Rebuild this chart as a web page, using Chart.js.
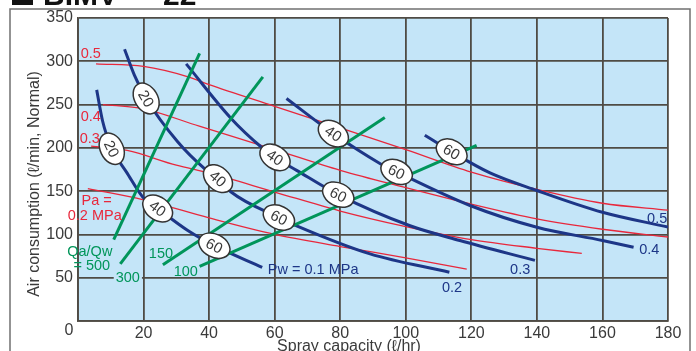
<!DOCTYPE html>
<html lang="en">
<head>
<meta charset="UTF-8">
<title>BIMV air consumption</title>
<script src="https://cdn.jsdelivr.net/npm/chart.js@4.4.0/dist/chart.umd.min.js"></script>
<style>
  html, body { margin: 0; padding: 0; background: #fff; }
  #wrap { width: 696px; height: 351px; }
</style>
</head>
<body>
<div id="wrap"><canvas id="chart" width="696" height="351"></canvas></div>
<script>
// axis ticks
const xTicks = [0, 20, 40, 60, 80, 100, 120, 140, 160, 180];
const yTicks = [0, 50, 100, 150, 200, 250, 300, 350];

// Pw = water pressure curves, [spray capacity l/hr, air consumption l/min]
const pw01 = [[5.7, 267], [7.5, 231], [8.8, 214], [10.3, 199], [14.8, 172], [19.8, 143], [24.3, 130], [33.5, 104.5], [41.6, 87], [56.2, 62]];
const pw02 = [[14.2, 314], [17.2, 284], [20.8, 257], [30.4, 207], [38.6, 176], [42.7, 164.5], [46.7, 149], [61.3, 119.5], [66.7, 110], [89.1, 77.6], [113.3, 56.4]];
const pw03 = [[33, 297], [46.7, 234], [55.9, 201], [60.1, 189], [66.7, 174], [79.4, 146], [101.3, 110], [116.5, 93], [139.4, 70]];
const pw04 = [[63.6, 257], [77.9, 216.5], [92.1, 182], [97.2, 172.3], [119.6, 133.4], [140, 108.3], [160, 93], [169.5, 85.2]];
const pw05 = [[105.8, 214.6], [114, 195.4], [125.7, 171], [140, 150.7], [160, 125.6], [180, 108.5]];

// Pa = air pressure curves
const pa02 = [[3, 153], [20, 140], [40, 119], [60, 100], [80, 86], [100, 73], [118.6, 60]];
const pa03 = [[4, 202], [15, 197], [30, 180], [40, 171], [60, 149], [80, 127], [100, 109], [120, 94], [140, 84], [153.7, 78]];
const pa04 = [[7.6, 250], [20, 245], [37, 225], [60, 198], [80, 174], [100, 154], [120, 135], [140, 118], [160, 106], [180, 97]];
const pa05 = [[5.5, 297], [20, 294], [33.6, 282], [40, 273], [60, 248], [80, 223], [100, 198], [120, 172], [140, 152], [160, 136], [180, 128]];

// Qa/Qw ratio lines
const qr500 = [[10.9, 94], [37.1, 309]];
const qr300 = [[12.9, 66], [56.4, 282]];
const qr150 = [[25.9, 65], [93.6, 235]];
const qr100 = [[37.1, 63], [121.6, 203]];

// mean droplet size markers on the Pw curves
const dropMarks = [
  { curve: pw01, x: 10.3, text: '20' }, { curve: pw01, x: 24.3, text: '40' }, { curve: pw01, x: 41.6, text: '60' },
  { curve: pw02, x: 20.8, text: '20' }, { curve: pw02, x: 42.7, text: '40' }, { curve: pw02, x: 61.3, text: '60' },
  { curve: pw03, x: 60.1, text: '40' }, { curve: pw03, x: 79.4, text: '60' },
  { curve: pw04, x: 77.9, text: '40' }, { curve: pw04, x: 97.2, text: '60' },
  { curve: pw05, x: 114, text: '60' }
];

const RED = '#e8283c', BLUE = '#1d3687', GREEN = '#00955a', TXT = '#3a3a3a';
const FONT = '"Liberation Sans", Arial, sans-serif';

// curve labels, placed in data units
const notes = [
  { t: '0.5', x: 3.9, y: 309, c: RED }, { t: '0.4', x: 3.9, y: 237, c: RED }, { t: '0.3', x: 3.6, y: 211, c: RED },
  { t: 'Pa =', x: 5.7, y: 140, c: RED }, { t: '0.2 MPa', x: 5.1, y: 122, c: RED },
  { t: 'Qa/Qw', x: 3.6, y: 81.4, c: GREEN }, { t: '= 500', x: 4.2, y: 65.2, c: GREEN },
  { t: '300', x: 15.2, y: 51.4, c: GREEN, bg: true }, { t: '150', x: 25.3, y: 79, c: GREEN }, { t: '100', x: 32.9, y: 58.3, c: GREEN },
  { t: 'Pw = 0.1 MPa', x: 57.9, y: 60.6, c: BLUE, align: 'left' },
  { t: '0.2', x: 114.1, y: 39.8, c: BLUE }, { t: '0.3', x: 134.9, y: 60.6, c: BLUE },
  { t: '0.4', x: 174.3, y: 82.6, c: BLUE }, { t: '0.5', x: 176.7, y: 119.5, c: BLUE }
];

const PLOT_BG = '#c4e5f8';
const GRID = '#4f4b45';

function pts(a) { return a.map(p => ({ x: p[0], y: p[1] })); }
function line(data, color, width, order) {
  return { data: pts(data), borderColor: color, borderWidth: width, showLine: true, pointRadius: 0,
           cubicInterpolationMode: 'monotone', order: order, fill: false };
}
function yAt(curve, x) {
  for (let i = 1; i < curve.length; i++) {
    if (x <= curve[i][0]) {
      const a = curve[i - 1], b = curve[i];
      return a[1] + (b[1] - a[1]) * (x - a[0]) / (b[0] - a[0]);
    }
  }
  return curve[curve.length - 1][1];
}

const decor = {
  id: 'decor',
  beforeDraw(chart) {
    const ctx = chart.ctx, a = chart.chartArea;
    ctx.save();
    ctx.fillStyle = PLOT_BG;
    ctx.fillRect(a.left, a.top, a.right - a.left, a.bottom - a.top);
    // outer frame
    ctx.strokeStyle = '#707070';
    ctx.lineWidth = 1.5;
    ctx.beginPath();
    ctx.moveTo(10, 352); ctx.lineTo(10, 9); ctx.lineTo(690, 9); ctx.lineTo(690, 352);
    ctx.stroke();
    // heading (cut off at the top)
    ctx.fillStyle = '#111';
    ctx.fillRect(12, -16, 21, 21);
    ctx.font = 'bold 30px ' + FONT;
    ctx.textBaseline = 'alphabetic';
    ctx.fillText('BIMV - - 22', 43, 5);
    ctx.restore();
  },
  afterDatasetsDraw(chart) {
    const ctx = chart.ctx, xs = chart.scales.x, ys = chart.scales.y;
    ctx.save();
    // droplet markers
    dropMarks.forEach(m => {
      const cx = xs.getPixelForValue(m.x), cy = ys.getPixelForValue(yAt(m.curve, m.x));
      const x1 = xs.getPixelForValue(m.x - 1.5), y1 = ys.getPixelForValue(yAt(m.curve, m.x - 1.5));
      const x2 = xs.getPixelForValue(m.x + 1.5), y2 = ys.getPixelForValue(yAt(m.curve, m.x + 1.5));
      const ang = Math.atan2(y2 - y1, x2 - x1);
      ctx.save();
      ctx.translate(cx, cy);
      ctx.rotate(ang);
      ctx.beginPath();
      ctx.ellipse(0, 0, 16.5, 11.5, 0, 0, Math.PI * 2);
      ctx.fillStyle = '#fff';
      ctx.fill();
      ctx.strokeStyle = '#333';
      ctx.lineWidth = 1.5;
      ctx.stroke();
      ctx.fillStyle = TXT;
      ctx.font = '15px ' + FONT;
      ctx.textAlign = 'center';
      ctx.textBaseline = 'middle';
      ctx.fillText(m.text, 0, 1);
      ctx.restore();
    });
    // curve labels
    ctx.font = '14.5px ' + FONT;
    ctx.textBaseline = 'middle';
    notes.forEach(n => {
      const px = xs.getPixelForValue(n.x), py = ys.getPixelForValue(n.y);
      ctx.textAlign = n.align || 'center';
      if (n.bg) {
        const w = ctx.measureText(n.t).width;
        ctx.fillStyle = PLOT_BG;
        ctx.fillRect(px - w / 2 - 2, py - 8, w + 4, 16);
      }
      ctx.fillStyle = n.c;
      ctx.fillText(n.t, px, py + 1);
    });
    ctx.restore();
  },
  afterDraw(chart) {
    const ctx = chart.ctx, a = chart.chartArea;
    ctx.save();
    ctx.fillStyle = TXT;
    ctx.font = '16px ' + FONT;
    ctx.textAlign = 'center';
    ctx.textBaseline = 'middle';
    ctx.fillText('0', a.left - 9, 331);
    ctx.fillText('Spray capacity (\u2113/hr)', 349, 347);
    ctx.translate(35, 184);
    ctx.rotate(-Math.PI / 2);
    ctx.fillText('Air consumption (\u2113/min, Normal)', 0, 0);
    ctx.restore();
  }
};

new Chart(document.getElementById('chart'), {
  type: 'scatter',
  data: {
    datasets: [
      line(pa02, RED, 1.3, 3), line(pa03, RED, 1.3, 3), line(pa04, RED, 1.3, 3), line(pa05, RED, 1.3, 3),
      line(pw01, BLUE, 3, 2), line(pw02, BLUE, 3, 2), line(pw03, BLUE, 3, 2), line(pw04, BLUE, 3, 2), line(pw05, BLUE, 3, 2),
      line(qr500, GREEN, 3, 1), line(qr300, GREEN, 3, 1), line(qr150, GREEN, 3, 1), line(qr100, GREEN, 3, 1)
    ]
  },
  options: {
    responsive: false,
    devicePixelRatio: 1,
    animation: false,
    layout: { padding: { left: 0, top: 18, right: 28, bottom: 0 } },
    plugins: { legend: { display: false }, tooltip: { enabled: false } },
    scales: {
      x: {
        type: 'linear', min: xTicks[0], max: xTicks[xTicks.length - 1],
        afterBuildTicks: s => { s.ticks = xTicks.map(v => ({ value: v })); },
        afterFit: s => { s.height = 30; },
        grid: { color: GRID, lineWidth: 1.8, drawTicks: false },
        border: { color: GRID, width: 1.8 },
        ticks: { color: TXT, padding: 3, font: { family: FONT, size: 16 }, callback: v => v === 0 ? '' : v, maxRotation: 0 }
      },
      y: {
        type: 'linear', min: yTicks[0], max: yTicks[yTicks.length - 1],
        afterBuildTicks: s => { s.ticks = yTicks.map(v => ({ value: v })); },
        afterFit: s => { s.width = 78; },
        grid: { color: GRID, lineWidth: 1.8, drawTicks: false },
        border: { color: GRID, width: 1.8 },
        ticks: { color: TXT, padding: 5, font: { family: FONT, size: 16 }, callback: v => v === 0 ? '' : v }
      }
    }
  },
  plugins: [decor]
});
</script>
</body>
</html>
